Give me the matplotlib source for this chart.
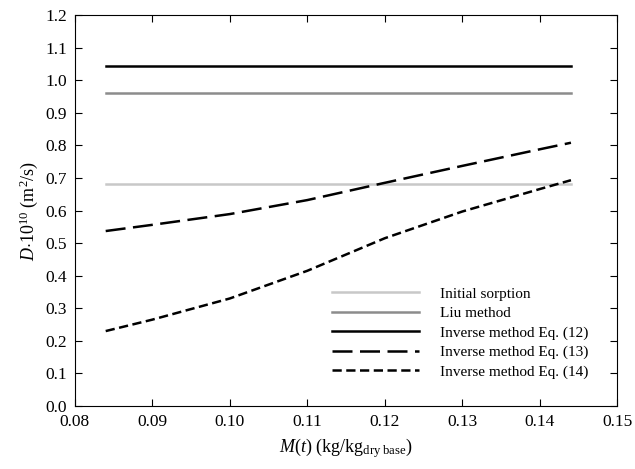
import matplotlib
matplotlib.use("Agg")
import matplotlib.pyplot as plt

plt.rcParams['font.family'] = ['Liberation Serif', 'DejaVu Serif']
plt.rcParams['mathtext.fontset'] = 'custom'
plt.rcParams['mathtext.rm'] = 'Liberation Serif'
plt.rcParams['mathtext.it'] = 'Liberation Serif:italic'

x_flat = [0.084, 0.144]
initial_sorption = [0.68, 0.68]
liu_method = [0.96, 0.96]
inverse_eq12 = [1.042, 1.042]

x_curve = [0.084, 0.09, 0.10, 0.11, 0.12, 0.13, 0.14, 0.144]
inverse_eq13 = [0.537, 0.556, 0.589, 0.632, 0.685, 0.737, 0.788, 0.808]
inverse_eq14 = [0.23, 0.265, 0.33, 0.415, 0.515, 0.597, 0.666, 0.693]

fig = plt.figure(figsize=(6.35, 4.69), dpi=100)
ax = fig.add_axes([0.1176, 0.1343, 0.8548, 0.8337])

ax.plot(x_flat, initial_sorption, color='#c8c8c8', lw=1.8, label='Initial sorption')
ax.plot(x_flat, liu_method, color='#8c8c8c', lw=1.8, label='Liu method')
ax.plot(x_flat, inverse_eq12, color='black', lw=1.8, label='Inverse method Eq. (12)')
ax.plot(x_curve, inverse_eq13, color='black', lw=1.8, dashes=(8, 3), label='Inverse method Eq. (13)')
ax.plot(x_curve, inverse_eq14, color='black', lw=1.8, dashes=(3.7, 1.8), label='Inverse method Eq. (14)')

ax.set_xlim(0.08, 0.15)
ax.set_ylim(0.0, 1.2)
ax.set_xticks([0.08, 0.09, 0.10, 0.11, 0.12, 0.13, 0.14, 0.15])
ax.set_xticklabels(['0.08', '0.09', '0.10', '0.11', '0.12', '0.13', '0.14', '0.15'])
ax.set_yticks([i / 10 for i in range(13)])
ax.set_yticklabels([f'{i/10:.1f}' for i in range(13)])
ax.tick_params(direction='in', top=True, right=True, length=5, width=0.8, labelsize=12.5)
ax.tick_params(axis='x', pad=6)
ax.tick_params(axis='y', pad=5.5)
for s in ax.spines.values():
    s.set_linewidth(0.8)

ax.set_xlabel(r'$M$($t$) (kg/kg$_{\mathrm{dry\ base}}$)', fontsize=13, labelpad=4)
ax.set_ylabel(r'$D$$\cdot$10$^{10}$ (m$^2$/s)', fontsize=13, labelpad=4)

ax.legend(loc='lower left', bbox_to_anchor=(0.4735, 0.07), frameon=False, fontsize=11,
          handlelength=5.7, handletextpad=1.37, labelspacing=0.37,
          borderpad=0, borderaxespad=0)

fig.savefig('out.png', dpi=100)
